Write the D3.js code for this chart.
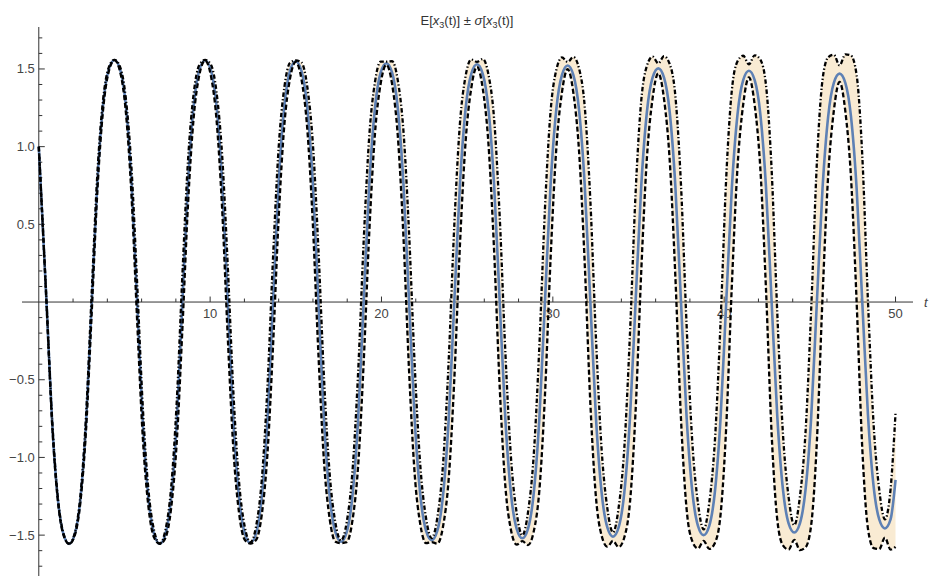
<!DOCTYPE html>
<html>
<head>
<meta charset="utf-8">
<script src="https://cdn.jsdelivr.net/npm/d3@7"></script>
<style>
  html, body { margin: 0; padding: 0; background: #ffffff; }
  svg { display: block; }
  text { font-family: "Liberation Sans", Arial, sans-serif; }
</style>
</head>
<body>
<div id="chart"></div>
<script>
// Time samples t
const times = [0, 0.45, 0.78, 1.11, 1.44, 1.77, 2.10, 2.43, 2.76, 3.09, 3.42, 3.75, 4.08, 4.415, 4.75, 5.08, 5.41,
  5.74, 6.07, 6.40, 6.73, 7.06, 7.39, 7.72, 8.05, 8.38, 8.71, 9.04, 9.37, 9.705, 10.04, 10.37, 10.70,
  11.03, 11.36, 11.69, 12.02, 12.35, 12.68, 13.01, 13.34, 13.67, 14.00, 14.33, 14.66, 14.995, 15.33, 15.66, 15.99,
  16.32, 16.65, 16.98, 17.31, 17.64, 17.97, 18.30, 18.63, 18.96, 19.29, 19.62, 19.95, 20.285, 20.62, 20.95, 21.28,
  21.61, 21.94, 22.27, 22.60, 22.93, 23.26, 23.59, 23.92, 24.25, 24.58, 24.91, 25.24, 25.575, 25.91, 26.24, 26.57,
  26.90, 27.23, 27.56, 27.89, 28.22, 28.55, 28.88, 29.21, 29.54, 29.87, 30.20, 30.53, 30.865, 31.20, 31.53, 31.86,
  32.19, 32.52, 32.85, 33.18, 33.51, 33.84, 34.17, 34.50, 34.83, 35.16, 35.49, 35.82, 36.155, 36.49, 36.82, 37.15,
  37.48, 37.81, 38.14, 38.47, 38.80, 39.13, 39.46, 39.79, 40.12, 40.45, 40.78, 41.11, 41.445, 41.78, 42.11, 42.44,
  42.77, 43.10, 43.43, 43.76, 44.09, 44.42, 44.75, 45.08, 45.41, 45.74, 46.07, 46.40, 46.735, 47.07, 47.40, 47.73,
  48.06, 48.39, 48.72, 49.05, 49.38, 49.71, 50];

// E[x3(t)]
const meanX3 = [1.0, 0, -0.773, -1.265, -1.494, -1.556, -1.494, -1.265, -0.773, 0, 0.774, 1.267, 1.496, 1.558, 1.496, 1.267, 0.774,
  0, -0.773, -1.264, -1.493, -1.555, -1.493, -1.264, -0.773, 0, 0.773, 1.265, 1.494, 1.556, 1.494, 1.265, 0.773,
  0, -0.770, -1.260, -1.488, -1.550, -1.488, -1.260, -0.770, 0, 0.770, 1.260, 1.488, 1.550, 1.488, 1.260, 0.770,
  0, -0.767, -1.254, -1.481, -1.543, -1.481, -1.254, -0.767, 0, 0.764, 1.250, 1.476, 1.537, 1.476, 1.250, 0.764,
  0, -0.761, -1.246, -1.471, -1.532, -1.471, -1.246, -0.761, 0, 0.760, 1.244, 1.469, 1.530, 1.469, 1.244, 0.760,
  0, -0.755, -1.236, -1.459, -1.520, -1.459, -1.236, -0.755, 0, 0.756, 1.237, 1.461, 1.522, 1.461, 1.237, 0.756,
  0, -0.750, -1.228, -1.450, -1.510, -1.450, -1.228, -0.750, 0, 0.747, 1.223, 1.444, 1.504, 1.444, 1.223, 0.747,
  0, -0.746, -1.220, -1.440, -1.500, -1.440, -1.220, -0.746, 0, 0.740, 1.210, 1.428, 1.488, 1.428, 1.210, 0.740,
  0, -0.737, -1.206, -1.424, -1.483, -1.424, -1.206, -0.737, 0, 0.731, 1.195, 1.411, 1.470, 1.411, 1.195, 0.731,
  0, -0.724, -1.185, -1.399, -1.457, -1.399, -1.145];

// σ[x3(t)]
const sdX3 = [0, 0.009, 0.013, 0.009, 0.005, 0.001, 0.007, 0.021, 0.045, 0.064, 0.056, 0.032, 0.013, 0.001, 0.016, 0.043, 0.088,
  0.120, 0.098, 0.054, 0.023, 0.001, 0.025, 0.066, 0.130, 0.174, 0.141, 0.077, 0.032, 0.002, 0.035, 0.088, 0.173,
  0.229, 0.183, 0.099, 0.042, 0.004, 0.044, 0.111, 0.215, 0.284, 0.226, 0.121, 0.051, 0.005, 0.054, 0.133, 0.258,
  0.338, 0.267, 0.144, 0.061, 0.008, 0.064, 0.156, 0.299, 0.391, 0.309, 0.166, 0.071, 0.010, 0.074, 0.178, 0.340,
  0.444, 0.350, 0.188, 0.081, 0.013, 0.084, 0.200, 0.381, 0.497, 0.391, 0.211, 0.092, 0.016, 0.095, 0.222, 0.423,
  0.549, 0.431, 0.232, 0.102, 0.019, 0.105, 0.243, 0.462, 0.601, 0.473, 0.255, 0.113, 0.023, 0.116, 0.266, 0.504,
  0.653, 0.511, 0.276, 0.124, 0.027, 0.127, 0.287, 0.542, 0.702, 0.550, 0.297, 0.135, 0.032, 0.138, 0.309, 0.581,
  0.753, 0.590, 0.319, 0.146, 0.037, 0.149, 0.330, 0.621, 0.802, 0.626, 0.339, 0.157, 0.042, 0.160, 0.350, 0.657,
  0.850, 0.665, 0.360, 0.169, 0.047, 0.172, 0.372, 0.696, 0.898, 0.700, 0.380, 0.180, 0.053, 0.183, 0.391, 0.730,
  0.942, 0.734, 0.399, 0.191, 0.059, 0.194, 0.430];

// Axis ticks and labels
const xMajorTicks = [10, 20, 30, 40, 50];
const xMinorTicks = [2, 4, 6, 8, 12, 14, 16, 18, 22, 24, 26, 28, 32, 34, 36, 38, 42, 44, 46, 48];
const yMajorTicks = [-1.5, -1.0, -0.5, 0.5, 1.0, 1.5];
const yTickLabels = ["\u22121.5", "\u22121.0", "\u22120.5", "0.5", "1.0", "1.5"];
const xAxisLabel = "t";

const W = 929, H = 576;
const x = d3.scaleLinear().domain([-0.98, 51.02]).range([22, 913]);
const y = d3.scaleLinear().domain([-1.763, 1.77]).range([576, 27]);

const yMinorTicks = d3.range(-17, 18)
  .filter(k => k !== 0 && k % 5 !== 0)
  .map(k => k / 10);

const rows = times.map((t, i) => ({
  t,
  m: meanX3[i],
  lo: meanX3[i] - sdX3[i],
  hi: meanX3[i] + sdX3[i]
}));

const svg = d3.select("#chart").append("svg")
  .attr("width", W).attr("height", H)
  .attr("viewBox", `0 0 ${W} ${H}`);

svg.append("rect").attr("width", W).attr("height", H).attr("fill", "#ffffff");

const axisColor = "#333333";
const labelColor = "#444444";
const x0 = x(0), y0 = y(0);

// Axes
const axes = svg.append("g");
axes.append("line")
  .attr("x1", x(-0.98)).attr("x2", x(51.02))
  .attr("y1", y0).attr("y2", y0)
  .attr("stroke", axisColor).attr("stroke-width", 1);
axes.append("line")
  .attr("x1", x0).attr("x2", x0)
  .attr("y1", y(1.77)).attr("y2", y(-1.763))
  .attr("stroke", axisColor).attr("stroke-width", 1);

axes.selectAll(".xmaj").data(xMajorTicks).join("line")
  .attr("x1", d => x(d)).attr("x2", d => x(d))
  .attr("y1", y0).attr("y2", y0 - 5.5)
  .attr("stroke", axisColor).attr("stroke-width", 1);
axes.selectAll(".xmin").data(xMinorTicks).join("line")
  .attr("x1", d => x(d)).attr("x2", d => x(d))
  .attr("y1", y0).attr("y2", y0 - 3.5)
  .attr("stroke", axisColor).attr("stroke-width", 1);
axes.selectAll(".ymaj").data(yMajorTicks).join("line")
  .attr("x1", x0).attr("x2", x0 + 6)
  .attr("y1", d => y(d)).attr("y2", d => y(d))
  .attr("stroke", axisColor).attr("stroke-width", 1);
axes.selectAll(".ymin").data(yMinorTicks).join("line")
  .attr("x1", x0).attr("x2", x0 + 3.5)
  .attr("y1", d => y(d)).attr("y2", d => y(d))
  .attr("stroke", axisColor).attr("stroke-width", 1);

axes.selectAll(".xlab").data(xMajorTicks).join("text")
  .attr("x", d => x(d)).attr("y", y0 + 16)
  .attr("text-anchor", "middle")
  .attr("font-size", 13).attr("fill", labelColor)
  .text(d => d);
axes.selectAll(".ylab").data(yMajorTicks).join("text")
  .attr("x", x0 - 4).attr("y", d => y(d) + 4.5)
  .attr("text-anchor", "end")
  .attr("font-size", 13).attr("fill", labelColor)
  .text((d, i) => yTickLabels[i]);

svg.append("text")
  .attr("x", 924).attr("y", y0 + 5)
  .attr("font-size", 13).attr("font-style", "italic")
  .attr("fill", labelColor)
  .text(xAxisLabel);

// ±σ band
const band = d3.area()
  .x(d => x(d.t))
  .y0(d => y(d.lo))
  .y1(d => y(d.hi))
  .curve(d3.curveMonotoneX);
svg.append("path").datum(rows)
  .attr("d", band)
  .attr("fill", "#e19c24").attr("fill-opacity", 0.2);

const lineOf = key => d3.line()
  .x(d => x(d.t))
  .y(d => y(d[key]))
  .curve(d3.curveMonotoneX);

// Mean
svg.append("path").datum(rows)
  .attr("d", lineOf("m"))
  .attr("fill", "none")
  .attr("stroke", "#5e81b5").attr("stroke-width", 2.6);

// E + σ (dot-dashed) and E − σ (dashed)
svg.append("path").datum(rows)
  .attr("d", lineOf("hi"))
  .attr("fill", "none")
  .attr("stroke", "#000000").attr("stroke-width", 2.3)
  .attr("stroke-dasharray", "4.5,2.2,1.3,2.2");
svg.append("path").datum(rows)
  .attr("d", lineOf("lo"))
  .attr("fill", "none")
  .attr("stroke", "#000000").attr("stroke-width", 2.3)
  .attr("stroke-dasharray", "5,2.6");

// Title: E[x3(t)] ± σ[x3(t)]
const title = svg.append("text")
  .attr("x", 467).attr("y", 25)
  .attr("text-anchor", "middle")
  .attr("font-size", 13).attr("fill", "#333333");
const parts = [
  ["E[", null], ["x", "i"], ["3", "s"], ["(t)] \u00b1 ", null],
  ["\u03c3", "i"], ["[", null], ["x", "i"], ["3", "s"], ["(t)]", null]
];
parts.forEach(([s, kind]) => {
  const ts = title.append("tspan").text(s);
  if (kind === "i") ts.attr("font-style", "italic");
  if (kind === "s") ts.attr("font-size", 9).attr("dy", 3);
  else if (kind === null || kind === "i") ts.attr("dy", 0);
});
// restore baseline after subscripts
title.selectAll("tspan").each(function (d, i) {
  if (parts[i][1] === "s") {
    const next = this.nextSibling;
    if (next) d3.select(next).attr("dy", -3);
  }
});
</script>
</body>
</html>
